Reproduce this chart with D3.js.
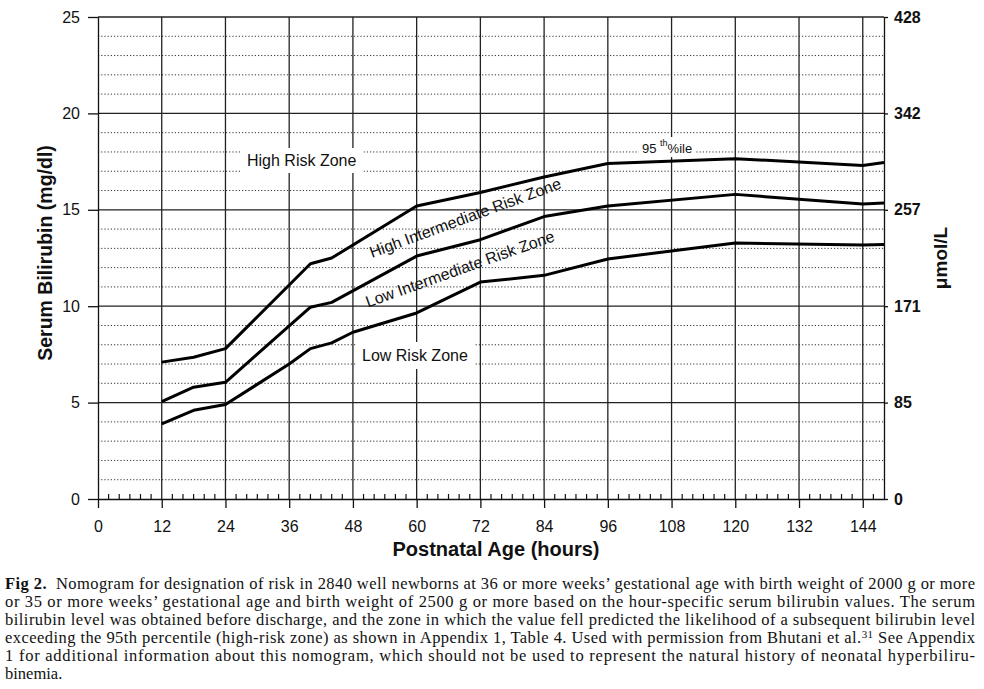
<!DOCTYPE html>
<html lang="en">
<head>
<meta charset="UTF-8">
<title>Bilirubin Nomogram</title>
<style>
body { margin: 0; background: #fff; overflow: hidden; }
svg { display: block; }
.axis text { font-family: "Liberation Sans", Arial, sans-serif; font-size: 16px; fill: #111; }
.axis path, .axis line { stroke: #111; stroke-width: 1.3px; }
.axis.right text { font-weight: bold; }
.grid-major { stroke: #222; stroke-width: 1.3px; }
.grid-minor { stroke: #333; stroke-width: 1px; stroke-dasharray: 1.2,2; }
.minor-tick { stroke: #111; stroke-width: 1.2px; }
.curve { fill: none; stroke: #000; stroke-width: 3px; stroke-linejoin: round; }
.zone { font-family: "Liberation Sans", Arial, sans-serif; font-size: 16px; fill: #111; }
.title { font-family: "Liberation Sans", Arial, sans-serif; font-weight: bold; fill: #111; }
.caption { font-family: "Liberation Serif", "Times New Roman", serif; font-size: 16.5px; fill: #111; }
</style>
</head>
<body>
<svg></svg>
<script src="https://d3js.org/d3.v7.min.js"></script>
<script>
// axis values
const hourTicks = [0, 12, 24, 36, 48, 60, 72, 84, 96, 108, 120, 132, 144];
const mgTicks = [0, 5, 10, 15, 20, 25];
const umolLabels = [0, 85, 171, 257, 342, 428];

// percentile curves (hours, mg/dl)
const hours95 = [12, 18, 24, 40, 44, 60, 72, 84, 96, 120, 144, 148];
const bili95 = [7.1, 7.35, 7.8, 12.2, 12.5, 15.2, 15.9, 16.7, 17.4, 17.65, 17.3, 17.45];
const hours75 = [12, 18, 24, 40, 44, 60, 72, 84, 96, 120, 144, 148];
const bili75 = [5.05, 5.8, 6.05, 9.95, 10.2, 12.6, 13.45, 14.65, 15.2, 15.8, 15.3, 15.35];
const hours40 = [12, 18, 24, 36, 40, 44, 48, 60, 72, 84, 96, 120, 144, 148];
const bili40 = [3.9, 4.6, 4.9, 7.0, 7.8, 8.1, 8.65, 9.65, 11.25, 11.6, 12.45, 13.28, 13.17, 13.2];

const captionLines = [
    "or 35 or more weeks\u2019 gestational age and birth weight of 2500 g or more based on the hour-specific serum bilirubin values. The serum",
    "bilirubin level was obtained before discharge, and the zone in which the value fell predicted the likelihood of a subsequent bilirubin level"
];

const width = 984, height = 689;

const svg = d3.select("svg")
    .attr("width", width)
    .attr("height", height);

const x = d3.scaleLinear().domain([0, 148]).range([98, 884]);
const y = d3.scaleLinear().domain([0, 25]).range([499, 17]);

// dotted grid at every 1 mg/dl
const minorY = d3.range(1, 25).filter(v => v % 5 !== 0);
svg.append("g").selectAll("line")
    .data(minorY)
    .enter().append("line")
    .attr("class", "grid-minor")
    .attr("x1", x(0)).attr("x2", x(148))
    .attr("y1", d => y(d)).attr("y2", d => y(d));

// solid grid
svg.append("g").selectAll("line")
    .data(mgTicks.filter(v => v > 0))
    .enter().append("line")
    .attr("class", "grid-major")
    .attr("x1", x(0)).attr("x2", x(148))
    .attr("y1", d => y(d)).attr("y2", d => y(d));

svg.append("g").selectAll("line")
    .data(hourTicks.filter(v => v > 0))
    .enter().append("line")
    .attr("class", "grid-major")
    .attr("x1", d => x(d)).attr("x2", d => x(d))
    .attr("y1", y(25)).attr("y2", y(0));

// small ticks every 2 hours on the x axis
svg.append("g").selectAll("line")
    .data(d3.range(2, 148, 2).filter(v => v % 12 !== 0))
    .enter().append("line")
    .attr("class", "minor-tick")
    .attr("x1", d => x(d)).attr("x2", d => x(d))
    .attr("y1", y(0)).attr("y2", y(0) - 5);

// axes
svg.append("g")
    .attr("class", "axis")
    .attr("transform", `translate(${x(0)},0)`)
    .call(d3.axisLeft(y).tickValues(mgTicks).tickSize(10).tickSizeOuter(0).tickPadding(8));

svg.append("g")
    .attr("class", "axis right")
    .attr("transform", `translate(${x(148)},0)`)
    .call(d3.axisRight(y).tickValues(mgTicks).tickSize(4).tickSizeOuter(0).tickPadding(6)
        .tickFormat((d, i) => umolLabels[i]));

svg.append("g")
    .attr("class", "axis")
    .attr("transform", `translate(0,${y(0)})`)
    .call(d3.axisBottom(x).tickValues(hourTicks).tickSize(9).tickSizeOuter(0).tickPadding(13));

// zone labels with white boxes that break the grid
function boxedLabel(parent, tx, ty, padX, padY, build) {
    const g = parent.append("g");
    const rect = g.append("rect").attr("fill", "#fff");
    const t = g.append("text").attr("class", "zone").attr("x", tx).attr("y", ty);
    build(t);
    const b = t.node().getBBox();
    rect.attr("x", b.x - padX).attr("y", b.y - padY)
        .attr("width", b.width + padX * 2).attr("height", b.height + padY * 2);
}

const labels = svg.append("g");
boxedLabel(labels, 247, 166, 7, 4, t => t.text("High Risk Zone"));
boxedLabel(labels, 362, 361, 6, 5, t => t.text("Low Risk Zone"));
boxedLabel(labels, 642, 153, 3, 1, t => {
    t.style("font-size", "13px");
    t.append("tspan").text("95 ");
    t.append("tspan").attr("dy", -7).style("font-size", "9px").text("th");
    t.append("tspan").attr("dy", 7).text("%ile");
});

labels.append("text")
    .attr("class", "zone")
    .attr("transform", "translate(372,258) rotate(-20.2)")
    .text("High Intermediate Risk Zone");

labels.append("text")
    .attr("class", "zone")
    .attr("transform", "translate(368,307.5) rotate(-19.6)")
    .text("Low Intermediate Risk Zone");

// percentile curves
const line = d3.line().x(d => x(d[0])).y(d => y(d[1]));
[[hours95, bili95], [hours75, bili75], [hours40, bili40]].forEach(([h, b]) => {
    svg.append("path")
        .attr("class", "curve")
        .attr("d", line(h.map((v, i) => [v, b[i]])));
});

// axis titles
svg.append("text")
    .attr("class", "title")
    .attr("x", 496).attr("y", 556)
    .attr("text-anchor", "middle")
    .style("font-size", "20px")
    .text("Postnatal Age (hours)");

svg.append("text")
    .attr("class", "title")
    .attr("transform", "translate(52,253) rotate(-90)")
    .attr("text-anchor", "middle")
    .style("font-size", "19.5px")
    .text("Serum Bilirubin (mg/dl)");

svg.append("text")
    .attr("class", "title")
    .attr("transform", "translate(947,258) rotate(-90)")
    .attr("text-anchor", "middle")
    .style("font-size", "19px")
    .text("\u03bcmol/L");

// caption, justified line by line
const capX = 5, capW = 970, capTop = 589, capStep = 18;
const cap = svg.append("g").attr("class", "caption");

const l1 = cap.append("text").attr("x", capX).attr("y", capTop)
    .attr("textLength", capW).attr("lengthAdjust", "spacing");
l1.append("tspan").style("font-weight", "bold").text("Fig 2.");
l1.append("tspan").text("\u00a0 Nomogram for designation of risk in 2840 well newborns at 36 or more weeks\u2019 gestational age with birth weight of 2000 g or more");

captionLines.forEach((s, i) => {
    cap.append("text").attr("x", capX).attr("y", capTop + capStep * (i + 1))
        .attr("textLength", capW).attr("lengthAdjust", "spacing")
        .text(s);
});

const l4 = cap.append("text").attr("x", capX).attr("y", capTop + capStep * 3)
    .attr("textLength", capW).attr("lengthAdjust", "spacing");
l4.append("tspan").text("exceeding the 95th percentile (high-risk zone) as shown in Appendix 1, Table 4. Used with permission from Bhutani et al.");
l4.append("tspan").attr("dy", -5).style("font-size", "11px").text("31");
l4.append("tspan").attr("dy", 5).text(" See Appendix");

cap.append("text").attr("x", capX).attr("y", capTop + capStep * 4)
    .attr("textLength", capW).attr("lengthAdjust", "spacing")
    .text("1 for additional information about this nomogram, which should not be used to represent the natural history of neonatal hyperbiliru-");

cap.append("text").attr("x", capX).attr("y", capTop + capStep * 5)
    .text("binemia.");
</script>
</body>
</html>
